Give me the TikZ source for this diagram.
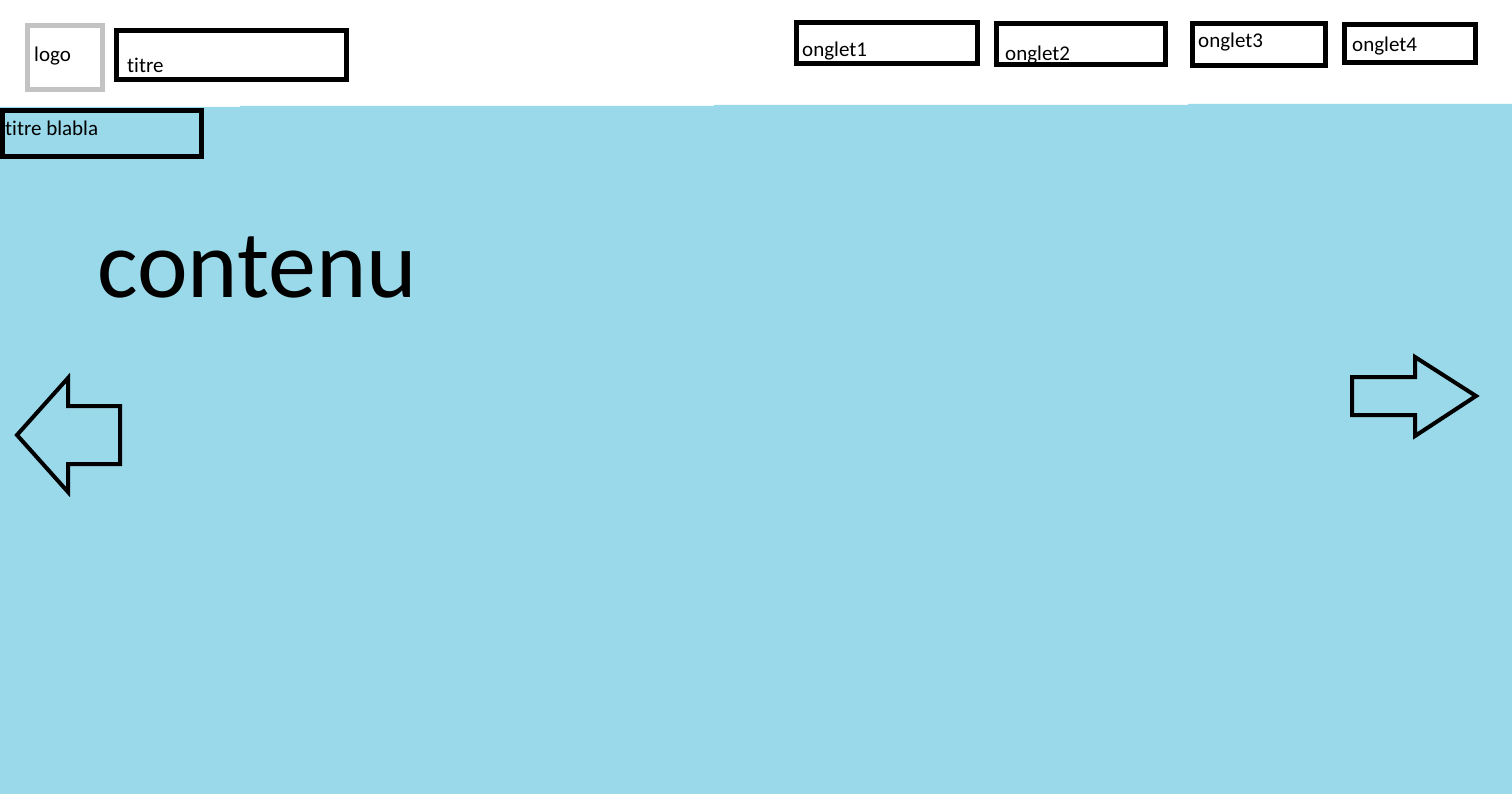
\documentclass[tikz,border=0pt]{standalone}
\usepackage{fontspec}
\setmainfont{Carlito}[RawFeature={-liga}]
\definecolor{paintblue}{RGB}{153,217,234}
\definecolor{paintgray}{RGB}{195,195,195}
\begin{document}
\begin{tikzpicture}[x=1pt,y=-1pt,
  box/.style={draw=black,line width=5pt},
  graybox/.style={draw=paintgray,line width=5pt},
  lbl/.style={anchor=base west,inner sep=0pt,font=\fontsize{21}{24}\selectfont},
  bigarrow/.style={draw=black,line width=4pt,line join=miter}]
\useasboundingbox (0,0) rectangle (1512,794);
\fill[white] (0,0) rectangle (1512,794);
% blue content area
\fill[paintblue] (0,107) -- (240,107) -- (240,106) -- (714,106) -- (714,105) -- (1188,105) -- (1188,104) -- (1512,104) -- (1512,794) -- (0,794) -- cycle;
% header boxes
\draw[graybox] (27.5,25.5) rectangle (102.5,89.5);
\node[lbl] (logo) at (34,62) {logo};
\draw[box] (116.5,30.5) rectangle (346.5,79.5);
\node[lbl] (titre) at (127,73) {titre};
% tabs
\draw[box] (796.5,22.5) rectangle (977.5,63.5);
\node[lbl] (onglet1) at (802,57) {onglet1};
\draw[box] (996.5,23.5) rectangle (1165.5,64.5);
\node[lbl] (onglet2) at (1005,61) {onglet2};
\draw[box] (1192.5,23.5) rectangle (1325.5,65.5);
\node[lbl] (onglet3) at (1198,48) {onglet3};
\draw[box] (1344.5,24.5) rectangle (1475.5,62.5);
\node[lbl] (onglet4) at (1352,52) {onglet4};
% title bar
\draw[box] (2.5,110.5) rectangle (201.5,156.5);
\node[lbl] (blabla) at (5,136) {titre blabla};
% content
\node[anchor=base west,inner sep=0pt,font=\fontsize{96}{100}\selectfont] (contenu) at (97,298) {contenu};
% arrows
\draw[bigarrow] (17,435) -- (68,378) -- (68,406) -- (120,406) -- (120,464) -- (68,464) -- (68,492) -- cycle;
\draw[bigarrow] (1352,377) -- (1415,377) -- (1415,357) -- (1476,396) -- (1415,436) -- (1415,415) -- (1352,415) -- cycle;
\end{tikzpicture}
\end{document}
